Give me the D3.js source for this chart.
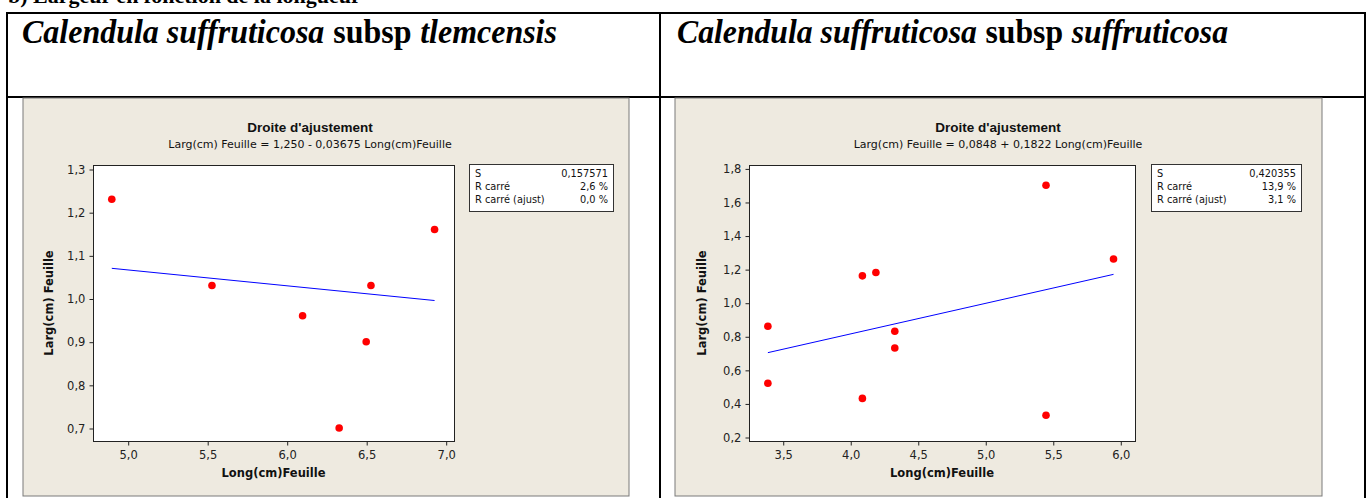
<!DOCTYPE html>
<html>
<head>
<meta charset="utf-8">
<script src="https://cdn.jsdelivr.net/npm/d3@7"></script>
<style>
  html, body { margin: 0; padding: 0; background: #ffffff; }
  svg { display: block; }
</style>
</head>
<body>
<svg id="chart" width="1371" height="498"></svg>
<script>
// Leaf length vs leaf width, two subspecies (Minitab fitted line plots)
const tlemLong = [4.90, 5.53, 6.10, 6.33, 6.50, 6.53, 6.93];
const tlemLarg = [1.23, 1.03, 0.96, 0.70, 0.90, 1.03, 1.16];
const tlemFit = { intercept: 1.250, slope: -0.03675 };
const tlemEquation = "Larg(cm) Feuille =  1,250 - 0,03675 Long(cm)Feuille";
const tlemStats = [["S", "0,157571"], ["R carré", "2,6 %"], ["R carré (ajust)", "0,0 %"]];
const tlemXTicks = [5.0, 5.5, 6.0, 6.5, 7.0];
const tlemYTicks = [0.7, 0.8, 0.9, 1.0, 1.1, 1.2, 1.3];

const suffLong = [3.39, 3.39, 4.09, 4.19, 4.09, 4.33, 4.33, 5.45, 5.45, 5.95];
const suffLarg = [0.86, 0.52, 1.16, 1.18, 0.43, 0.83, 0.73, 1.70, 0.33, 1.26];
const suffFit = { intercept: 0.0848, slope: 0.1822 };
const suffEquation = "Larg(cm) Feuille =  0,0848 + 0,1822 Long(cm)Feuille";
const suffStats = [["S", "0,420355"], ["R carré", "13,9 %"], ["R carré (ajust)", "3,1 %"]];
const suffXTicks = [3.5, 4.0, 4.5, 5.0, 5.5, 6.0];
const suffYTicks = [0.2, 0.4, 0.6, 0.8, 1.0, 1.2, 1.4, 1.6, 1.8];

const svg = d3.select("#chart");
const fmt = d => d3.format(".1f")(d).replace(".", ",");
const UI = "'DejaVu Sans', Verdana, sans-serif";
const UI_NARROW = "'Liberation Sans', Arial, sans-serif";
const SERIF = "'Liberation Serif', 'Times New Roman', serif";

// heading line, cut by the top of the page
svg.append("text")
  .attr("x", 8).attr("y", 3)
  .attr("font-family", SERIF).attr("font-weight", "bold").attr("font-size", 22)
  .text("b) Largeur en fonction de la longueur");

// table frame
const tbl = svg.append("g").attr("stroke", "#000").attr("stroke-width", 2);
tbl.append("line").attr("x1", 7).attr("x2", 1365).attr("y1", 13).attr("y2", 13);
tbl.append("line").attr("x1", 7).attr("x2", 1365).attr("y1", 97).attr("y2", 97);
[7, 660, 1365].forEach(x => tbl.append("line").attr("x1", x).attr("x2", x).attr("y1", 12).attr("y2", 500));

// cell headings: italic species name, upright "subsp", italic epithet,
// laid out word group by word group and narrowed to the cell's text width
function heading(x, parts, width) {
  const g = svg.append("g");
  let cx = 0;
  parts.forEach((p, i) => {
    const t = g.append("text").attr("x", cx).attr("y", 0)
      .attr("font-family", SERIF).attr("font-weight", "bold").attr("font-size", 33)
      .attr("font-style", p[1] ? "italic" : "normal").text(p[0]);
    cx += t.node().getComputedTextLength() + (i < parts.length - 1 ? 9 : 0);
  });
  g.attr("transform", `translate(${x},43) scale(${width / cx},1)`);
}
heading(22, [["Calendula suffruticosa", true], ["subsp", false], ["tlemcensis", true]], 535);
heading(677, [["Calendula suffruticosa", true], ["subsp", false], ["suffruticosa", true]], 551);

function panel(cfg) {
  const g = svg.append("g");
  g.append("rect").attr("x", cfg.panel[0]).attr("y", 98)
    .attr("width", cfg.panel[1] - cfg.panel[0]).attr("height", 398)
    .attr("fill", "#EEEAE0").attr("stroke", "#7a7a7a").attr("stroke-width", 1);

  const x = d3.scaleLinear().domain(cfg.xDomain).range([cfg.plot[0], cfg.plot[1]]);
  const y = d3.scaleLinear().domain(cfg.yDomain).range([441, 165]);

  // titles
  g.append("text").attr("x", cfg.titleX).attr("y", 132).attr("text-anchor", "middle")
    .attr("font-family", UI_NARROW).attr("font-weight", "bold").attr("font-size", 13.5)
    .attr("fill", "#111").text("Droite d'ajustement");
  g.append("text").attr("x", cfg.titleX).attr("y", 147.5).attr("text-anchor", "middle")
    .attr("font-family", UI).attr("font-size", 11).attr("fill", "#111").text(cfg.equation);

  // plot area
  g.append("rect").attr("x", cfg.plot[0] + 0.5).attr("y", 165.5)
    .attr("width", cfg.plot[1] - cfg.plot[0]).attr("height", 276)
    .attr("fill", "#fff").attr("stroke", "#222").attr("stroke-width", 1);

  // axes
  const xa = g.append("g").attr("transform", "translate(0.5,441.5)")
    .call(d3.axisBottom(x).tickValues(cfg.xTicks).tickFormat(fmt).tickSize(4).tickSizeOuter(0));
  const ya = g.append("g").attr("transform", `translate(${cfg.plot[0] + 0.5},0.5)`)
    .call(d3.axisLeft(y).tickValues(cfg.yTicks).tickFormat(fmt).tickSize(4).tickSizeOuter(0));
  [xa, ya].forEach(a => {
    a.select(".domain").remove();
    a.selectAll(".tick line").attr("stroke", "#222");
    a.selectAll(".tick text").attr("font-family", UI).attr("font-size", 11.5).attr("fill", "#222");
  });
  xa.selectAll(".tick text").attr("dy", "0.9em");
  ya.selectAll(".tick text").attr("dx", "-0.1em");

  g.append("text").attr("x", (cfg.plot[0] + cfg.plot[1]) / 2).attr("y", 477)
    .attr("text-anchor", "middle").attr("font-family", UI).attr("font-weight", "bold")
    .attr("font-size", 11.5).attr("fill", "#111").text("Long(cm)Feuille");
  g.append("text").attr("transform", `translate(${cfg.yTitleX},303) rotate(-90)`)
    .attr("text-anchor", "middle").attr("font-family", UI).attr("font-weight", "bold")
    .attr("font-size", 11.5).attr("fill", "#111").text("Larg(cm) Feuille");

  // fitted line from the stated equation
  const ext = d3.extent(cfg.xs);
  g.append("path")
    .datum(ext.map(v => [v, cfg.fit.intercept + cfg.fit.slope * v]))
    .attr("d", d3.line().x(d => x(d[0])).y(d => y(d[1])))
    .attr("fill", "none").attr("stroke", "#0000FF").attr("stroke-width", 1);

  // observations
  g.selectAll("circle.pt").data(cfg.xs.map((v, i) => [v, cfg.ys[i]])).enter()
    .append("circle").attr("class", "pt")
    .attr("cx", d => x(d[0])).attr("cy", d => y(d[1])).attr("r", 3.8)
    .attr("fill", "#FF0000");

  // statistics box
  const bx = cfg.box[0], bw = cfg.box[1] - cfg.box[0];
  g.append("rect").attr("x", bx + 0.5).attr("y", 164.5).attr("width", bw).attr("height", 47)
    .attr("fill", "#fff").attr("stroke", "#333").attr("stroke-width", 1);
  cfg.stats.forEach((s, i) => {
    const yy = 176.5 + i * 13;
    g.append("text").attr("x", bx + 6).attr("y", yy).attr("font-family", UI)
      .attr("font-size", 9.8).attr("fill", "#111").text(s[0]);
    g.append("text").attr("x", bx + bw - 5).attr("y", yy).attr("text-anchor", "end")
      .attr("font-family", UI).attr("font-size", 9.8).attr("fill", "#111").text(s[1]);
  });
}

panel({
  panel: [23, 629], plot: [93, 454], box: [469, 613], titleX: 310, yTitleX: 53,
  xDomain: [4.7818, 7.0522], yDomain: [0.6699, 1.3093],
  xs: tlemLong, ys: tlemLarg, fit: tlemFit, equation: tlemEquation, stats: tlemStats,
  xTicks: tlemXTicks, yTicks: tlemYTicks
});
panel({
  panel: [675, 1322], plot: [749, 1135], box: [1151, 1301], titleX: 998, yTitleX: 706,
  xDomain: [3.2502, 6.1090], yDomain: [0.1762, 1.8203],
  xs: suffLong, ys: suffLarg, fit: suffFit, equation: suffEquation, stats: suffStats,
  xTicks: suffXTicks, yTicks: suffYTicks
});
</script>
</body>
</html>
